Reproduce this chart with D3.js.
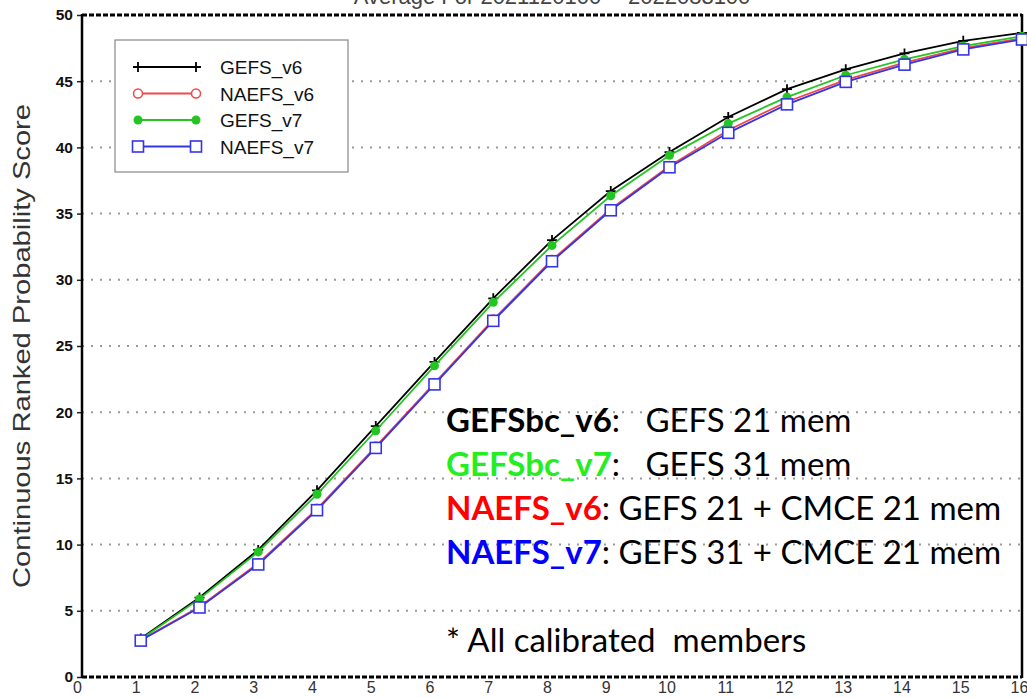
<!DOCTYPE html>
<html>
<head>
<meta charset="utf-8">
<script src="https://cdn.jsdelivr.net/npm/d3@7/dist/d3.min.js"></script>
<style>
  body { margin: 0; background: #fff; }
  svg { display: block; }
  .ylab text { font-family: "Liberation Sans", Arial, sans-serif; font-weight: bold; font-size: 15.5px; fill: #111; }
  .xlab text { font-family: "Liberation Sans", Arial, sans-serif; font-size: 16px; fill: #333; }
  .note { font-family: Lato, "Open Sans", sans-serif; font-size: 33px; white-space: pre; }
</style>
</head>
<body>
<div id="chart"></div>
<script>
// lead time (days)
var leadDays = [1, 2, 3, 4, 5, 6, 7, 8, 9, 10, 11, 12, 13, 14, 15, 16];

// CRPS per series
var gefsV6  = [2.9, 6.0, 9.6, 14.1, 18.95, 23.8, 28.6, 33.0, 36.7, 39.65, 42.3, 44.4, 45.9, 47.1, 48.05, 48.65];
var naefsV6 = [2.8, 5.3, 8.6, 12.7, 17.4, 22.2, 27.0, 31.5, 35.35, 38.6, 41.3, 43.45, 45.1, 46.4, 47.5, 48.25];
var gefsV7  = [2.85, 5.9, 9.45, 13.8, 18.6, 23.5, 28.3, 32.6, 36.35, 39.4, 41.8, 43.8, 45.45, 46.65, 47.65, 48.4];
var naefsV7 = [2.75, 5.25, 8.5, 12.6, 17.3, 22.1, 26.9, 31.4, 35.25, 38.5, 41.1, 43.25, 44.95, 46.25, 47.4, 48.15];

var seriesNames = ["GEFS_v6", "NAEFS_v6", "GEFS_v7", "NAEFS_v7"];
var xTicks = d3.range(0, 17);
var yTicks = d3.range(0, 51, 5);

var noteLines = [
    {tag: "GEFSbc_v6", color: "#000000", rest: ":   GEFS 21 mem"},
    {tag: "GEFSbc_v7", color: "#22ee22", rest: ":   GEFS 31 mem"},
    {tag: "NAEFS_v6", color: "#ff0000", rest: ": GEFS 21 + CMCE 21 mem"},
    {tag: "NAEFS_v7", color: "#0000ff", rest: ": GEFS 31 + CMCE 21 mem"}
];

var series = [
    {name: seriesNames[0], values: gefsV6, color: "#000000", mark: "plus"},
    {name: seriesNames[1], values: naefsV6, color: "#f04848", mark: "circle"},
    {name: seriesNames[2], values: gefsV7, color: "#22c522", mark: "dot"},
    {name: seriesNames[3], values: naefsV7, color: "#3535e8", mark: "square"}
];

var W = 1027, H = 698;
var svg = d3.select("#chart").append("svg").attr("width", W).attr("height", H);

var x = d3.scaleLinear().domain([0, 16]).range([82, 1022]);
var y = d3.scaleLinear().domain([0, 50]).range([677, 15]);

// title, mostly cut off by the top edge
svg.append("text")
    .attr("x", 552).attr("y", 4)
    .attr("text-anchor", "middle")
    .style("font-family", "Liberation Sans, Arial, sans-serif")
    .style("font-size", "22px")
    .style("fill", "#444")
    .text("Average For 2021120100 -- 2022083100");

// grid
svg.append("g").selectAll("line")
    .data(yTicks.filter(function (d) { return d > 0 && d < 50; }))
    .enter().append("line")
    .attr("x1", x(0)).attr("x2", x(16))
    .attr("y1", function (d) { return y(d); })
    .attr("y2", function (d) { return y(d); })
    .attr("stroke", "#9a9a9a")
    .attr("stroke-width", 2)
    .attr("stroke-dasharray", "2,7");

// axes
var yAxis = svg.append("g").attr("class", "ylab")
    .attr("transform", "translate(" + x(0) + ",0)")
    .call(d3.axisLeft(y).tickValues(yTicks).tickSize(5).tickPadding(4));
yAxis.select(".domain").remove();
yAxis.selectAll(".tick line").attr("stroke", "#222").attr("stroke-width", 1.5);

var xAxis = svg.append("g").attr("class", "xlab")
    .attr("transform", "translate(0," + y(0) + ")")
    .call(d3.axisBottom(x).tickValues(xTicks).tickSize(0).tickPadding(5));
xAxis.select(".domain").remove();
xAxis.selectAll(".tick text").attr("x", function (d) { return d < 10 ? -5 : -3; });

// frame
svg.append("line").attr("x1", x(0)).attr("x2", x(0)).attr("y1", y(50) - 1).attr("y2", y(0) + 1)
    .attr("stroke", "#000").attr("stroke-width", 2.5);
svg.append("line").attr("x1", x(16)).attr("x2", x(16)).attr("y1", y(50) - 1).attr("y2", y(0) + 1)
    .attr("stroke", "#000").attr("stroke-width", 2.5);
[0, 50].forEach(function (v) {
    svg.append("line").attr("x1", x(0)).attr("x2", x(16)).attr("y1", y(v)).attr("y2", y(v))
        .attr("stroke", "#000").attr("stroke-width", 3).attr("stroke-dasharray", "5,2");
});

// y label
svg.append("text")
    .attr("transform", "translate(30," + ((y(0) + y(50)) / 2) + ") rotate(-90)")
    .attr("text-anchor", "middle")
    .attr("textLength", 484).attr("lengthAdjust", "spacingAndGlyphs")
    .style("font-family", "Liberation Sans, Arial, sans-serif")
    .style("font-size", "24px")
    .style("fill", "#333")
    .text("Continuous Ranked Probability Score");

function drawMark(g, kind, color, cx, cy) {
    if (kind === "plus") {
        g.append("path").attr("d", "M" + (cx - 5) + "," + cy + "h10M" + cx + "," + (cy - 5) + "v10")
            .attr("stroke", color).attr("stroke-width", 1.8).attr("fill", "none");
    } else if (kind === "circle") {
        g.append("circle").attr("cx", cx).attr("cy", cy).attr("r", 4.5)
            .attr("fill", "#fff").attr("stroke", color).attr("stroke-width", 1.5);
    } else if (kind === "dot") {
        g.append("circle").attr("cx", cx).attr("cy", cy).attr("r", 4.5).attr("fill", color);
    } else {
        g.append("rect").attr("x", cx - 5.5).attr("y", cy - 5.5).attr("width", 11).attr("height", 11)
            .attr("fill", "#fff").attr("stroke", color).attr("stroke-width", 1.6);
    }
}

var line = d3.line()
    .x(function (d, i) { return x(leadDays[i]); })
    .y(function (d) { return y(d); });

series.forEach(function (s) {
    var g = svg.append("g");
    g.append("path").attr("d", line(s.values))
        .attr("fill", "none").attr("stroke", s.color).attr("stroke-width", 1.8);
    s.values.forEach(function (v, i) {
        drawMark(g, s.mark, s.color, x(leadDays[i]), y(v));
    });
});

// legend
var leg = svg.append("g");
leg.append("rect").attr("x", 115).attr("y", 40).attr("width", 233).attr("height", 132)
    .attr("fill", "#fff").attr("stroke", "#888").attr("stroke-width", 1.2);
series.forEach(function (s, i) {
    var ly = 67 + i * 26.5;
    leg.append("line").attr("x1", 138).attr("x2", 196).attr("y1", ly).attr("y2", ly)
        .attr("stroke", s.color).attr("stroke-width", 1.8);
    drawMark(leg, s.mark, s.color, 138, ly);
    drawMark(leg, s.mark, s.color, 196, ly);
    leg.append("text").attr("x", 220).attr("y", ly + 7)
        .style("font-family", "Liberation Sans, Arial, sans-serif")
        .style("font-size", "19px")
        .style("fill", "#111")
        .text(s.name);
});

// notes
var notes = svg.append("g");
noteLines.forEach(function (n, i) {
    var t = notes.append("text").attr("class", "note").attr("x", 446).attr("y", 432 + i * 44);
    t.append("tspan").style("font-weight", "bold").style("fill", n.color).text(n.tag);
    t.append("tspan").style("fill", "#000").text(n.rest);
});
notes.append("text").attr("class", "note").attr("x", 446).attr("y", 652)
    .style("fill", "#000").text("* All calibrated  members");
</script>
</body>
</html>
